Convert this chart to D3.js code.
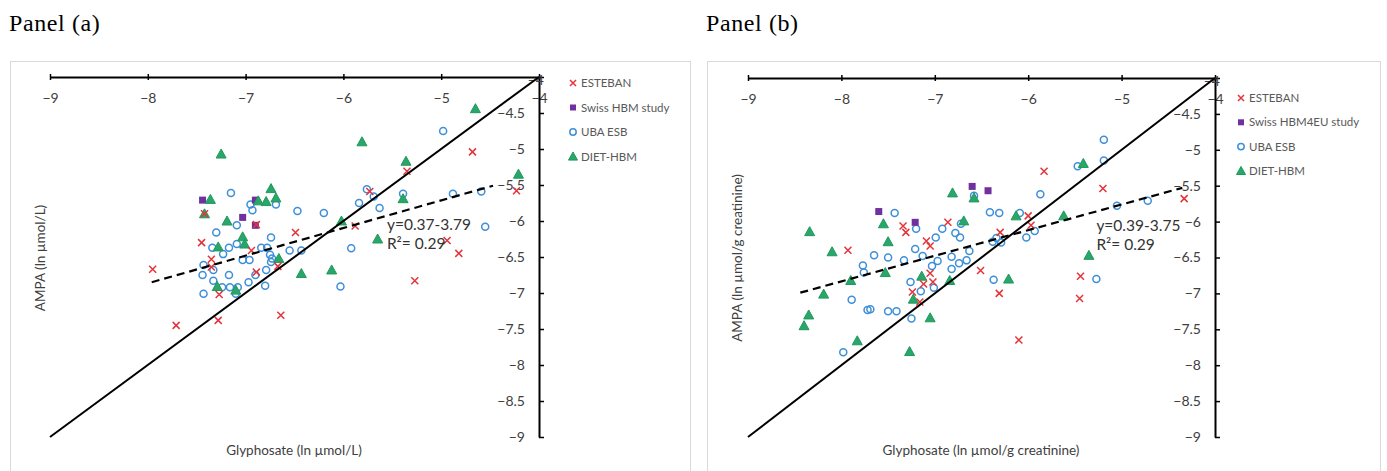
<!DOCTYPE html>
<html>
<head>
<meta charset="utf-8">
<script src="https://cdn.jsdelivr.net/npm/d3@7"></script>
<style>
  body { margin: 0; background: #fff; }
  svg text { font-family: Lato, "Open Sans", sans-serif; }
</style>
</head>
<body>
<div id="chart"></div>
<script>
//DATA--------------------
var xTicks = [-9, -8, -7, -6, -5, -4];
var yTicks = [-4, -4.5, -5, -5.5, -6, -6.5, -7, -7.5, -8, -8.5, -9];

var seriesNames = ["ESTEBAN", "Swiss HBM study", "UBA ESB", "DIET-HBM"];
var seriesNamesB = ["ESTEBAN", "Swiss HBM4EU study", "UBA ESB", "DIET-HBM"];

// panel (a): ln umol/L
var estebanA = [[-7.42,-5.90],[-7.45,-6.30],[-7.95,-6.67],[-7.35,-6.53],[-7.35,-6.64],[-6.94,-6.41],
  [-6.89,-6.05],[-6.49,-6.16],[-6.89,-6.71],[-6.67,-6.63],[-7.27,-7.02],[-7.71,-7.45],[-7.28,-7.38],
  [-6.64,-7.31],[-5.73,-5.59],[-5.35,-5.31],[-4.68,-5.04],[-5.88,-6.07],[-4.94,-6.27],[-4.82,-6.45],
  [-5.27,-6.83],[-4.23,-5.58]];
var swissA = [[-7.44,-5.71],[-6.90,-5.71],[-7.03,-5.95],[-6.90,-6.06]];
var ubaA = [[-7.15,-5.61],[-6.95,-5.77],[-6.93,-5.85],[-6.69,-5.77],[-6.47,-5.86],[-6.20,-5.89],
  [-7.30,-6.16],[-7.09,-6.06],[-6.74,-6.23],[-7.34,-6.37],[-7.23,-6.46],[-7.17,-6.37],[-7.09,-6.32],
  [-6.84,-6.37],[-6.78,-6.37],[-7.03,-6.54],[-6.96,-6.54],[-6.75,-6.47],[-6.73,-6.52],[-6.74,-6.57],
  [-6.55,-6.41],[-6.43,-6.41],[-7.43,-6.61],[-7.33,-6.68],[-6.79,-6.68],[-7.44,-6.75],[-7.17,-6.75],
  [-7.33,-6.83],[-6.97,-6.85],[-6.90,-6.75],[-6.80,-6.90],[-7.24,-6.92],[-7.16,-6.92],[-7.08,-6.92],
  [-7.10,-7.01],[-7.43,-7.01],[-4.98,-4.75],[-5.76,-5.56],[-5.69,-5.66],[-5.84,-5.75],[-5.63,-5.82],
  [-5.39,-5.62],[-4.88,-5.62],[-4.59,-5.59],[-4.55,-6.08],[-5.92,-6.38],[-6.03,-6.91]];
var dietA = [[-7.25,-5.07],[-7.36,-5.70],[-7.42,-5.90],[-6.74,-5.55],[-6.87,-5.72],[-6.79,-5.73],
  [-6.69,-5.68],[-7.19,-6.00],[-7.03,-6.22],[-7.01,-6.32],[-7.28,-6.36],[-6.66,-6.52],[-6.43,-6.73],
  [-6.12,-6.68],[-7.29,-6.91],[-7.10,-6.96],[-4.65,-4.44],[-5.81,-4.90],[-5.36,-5.17],[-5.39,-5.69],
  [-6.02,-6.00],[-5.65,-6.25],[-4.21,-5.35]];
var trendA = [[-7.96,-6.85],[-4.47,-5.51]];

// panel (b): ln umol/g creatinine
var estebanB = [[-7.93,-6.40],[-7.34,-6.06],[-7.31,-6.15],[-6.86,-6.01],[-7.09,-6.27],[-7.05,-6.34],
  [-7.05,-6.72],[-7.12,-6.87],[-7.02,-6.84],[-7.24,-6.98],[-7.16,-7.12],[-6.51,-6.68],[-5.83,-5.30],
  [-5.20,-5.54],[-6.00,-5.92],[-5.97,-6.05],[-6.30,-6.15],[-5.44,-6.76],[-5.45,-7.07],[-6.31,-7.00],
  [-6.10,-7.65],[-4.33,-5.68]];
var swissB = [[-6.60,-5.51],[-6.43,-5.57],[-7.60,-5.86],[-7.21,-6.01]];
var ubaB = [[-7.43,-5.88],[-6.58,-5.64],[-7.20,-6.10],[-6.41,-5.87],[-6.92,-6.10],[-6.99,-6.22],
  [-6.78,-6.16],[-6.73,-6.22],[-6.72,-6.03],[-7.21,-6.38],[-7.65,-6.47],[-7.50,-6.50],[-7.33,-6.54],
  [-7.13,-6.48],[-6.97,-6.55],[-7.03,-6.62],[-6.82,-6.49],[-6.82,-6.66],[-6.74,-6.58],[-6.66,-6.54],
  [-6.63,-6.41],[-7.77,-6.61],[-7.76,-6.71],[-7.26,-6.84],[-7.15,-6.97],[-7.01,-6.92],[-7.89,-7.09],
  [-7.72,-7.23],[-7.69,-7.22],[-7.50,-7.25],[-7.41,-7.25],[-7.25,-7.35],[-7.98,-7.82],[-5.19,-4.86],
  [-5.19,-5.15],[-5.47,-5.23],[-5.87,-5.62],[-6.31,-5.88],[-6.09,-5.88],[-5.05,-5.78],[-4.72,-5.71],
  [-6.34,-6.23],[-6.38,-6.28],[-6.29,-6.29],[-5.93,-6.13],[-6.02,-6.22],[-6.37,-6.81],[-5.27,-6.80]];
var dietB = [[-8.34,-6.14],[-8.10,-6.42],[-7.55,-6.03],[-7.50,-6.28],[-6.81,-5.60],[-6.58,-5.67],
  [-6.69,-5.99],[-7.90,-6.82],[-7.53,-6.71],[-8.19,-7.01],[-7.14,-6.76],[-6.84,-6.82],[-7.23,-7.08],
  [-7.05,-7.34],[-8.35,-7.30],[-8.40,-7.45],[-7.83,-7.66],[-7.27,-7.81],[-5.41,-5.19],[-6.13,-5.92],
  [-5.62,-5.92],[-5.35,-6.47],[-6.21,-6.80]];
var trendB = [[-8.44,-6.99],[-4.35,-5.53]];

var diagonal = [[-9,-9],[-4,-4]];

//COLOURS--------------------
var red = "#e3343a";
var purple = "#7030a0";
var blue = "#3d8fd9";
var green = "#2aa56c";
var greenEdge = "#1f9a5a";
var textGray = "#404040";

//SVG--------------------
var svg = d3.select("#chart")
    .append("svg")
    .attr("width", 1387)
    .attr("height", 471);

// marker drawing helpers
function drawCross(g, x, y, s) {
    g.append("path")
        .attr("d", `M${x-s},${y-s}L${x+s},${y+s}M${x-s},${y+s}L${x+s},${y-s}`)
        .attr("stroke", red)
        .attr("stroke-width", 1.5)
        .attr("fill", "none");
}
function drawSquare(g, x, y, s) {
    g.append("rect")
        .attr("x", x - s).attr("y", y - s)
        .attr("width", 2 * s).attr("height", 2 * s)
        .attr("fill", purple);
}
function drawCircle(g, x, y, r) {
    g.append("circle")
        .attr("cx", x).attr("cy", y).attr("r", r)
        .attr("fill", "none")
        .attr("stroke", blue)
        .attr("stroke-width", 1.5);
}
function drawTriangle(g, x, y, s) {
    g.append("path")
        .attr("d", `M${x},${y-s}L${x+s},${y+s*0.8}L${x-s},${y+s*0.8}Z`)
        .attr("fill", green)
        .attr("stroke", greenEdge)
        .attr("stroke-width", 1);
}

function drawPanel(p) {
    var g = svg.append("g");

    // frame
    g.append("rect")
        .attr("x", p.frame[0] + 0.5).attr("y", 61.5)
        .attr("width", p.frame[1] - p.frame[0]).attr("height", 440)
        .attr("fill", "none")
        .attr("stroke", "#d9d9d9");

    // panel title
    svg.append("text")
        .attr("x", p.frame[0] - 1)
        .attr("y", 31)
        .style("font-family", "'Liberation Serif', serif")
        .attr("font-size", 24)
        .attr("letter-spacing", 0.6)
        .attr("fill", "#000")
        .text(p.title);

    var x = d3.scaleLinear().domain([-9, -4]).range(p.xRange);
    var y = d3.scaleLinear().domain([-4, -9]).range(p.yRange);

    // x axis crossing at y=-4
    var xAxis = g.append("g")
        .attr("transform", `translate(0, ${y(-4)})`)
        .call(d3.axisBottom(x).tickValues(xTicks).tickSizeOuter(0).tickFormat(d3.format("")));
    xAxis.select(".domain").attr("stroke", "#000").attr("stroke-width", 2);
    xAxis.selectAll(".tick line").attr("y1", -3).attr("y2", 3).attr("stroke-width", 1.5);
    xAxis.selectAll(".tick text")
        .attr("y", 16)
        .attr("font-size", 14)
        .attr("fill", textGray);

    // y axis crossing at x=-4
    var yAxis = g.append("g")
        .attr("transform", `translate(${x(-4)}, 0)`)
        .call(d3.axisLeft(y).tickValues(yTicks).tickSizeOuter(0).tickFormat(d3.format("")));
    yAxis.select(".domain").attr("stroke", "#000").attr("stroke-width", 2);
    yAxis.selectAll(".tick line").attr("x1", 0).attr("x2", 5).attr("stroke-width", 1.5);
    yAxis.selectAll(".tick text")
        .attr("x", d => d === -4 ? 5 : -14)
        .attr("dy", d => d === -4 ? "0.55em" : "0.32em")
        .attr("font-size", 14)
        .attr("fill", textGray);

    // axis titles
    g.append("text")
        .attr("x", p.xTitlePos[0]).attr("y", p.xTitlePos[1])
        .attr("text-anchor", "middle")
        .attr("font-size", 13.5)
        .attr("fill", textGray)
        .text(p.xTitle);
    g.append("text")
        .attr("transform", `translate(${p.yTitlePos[0]}, ${p.yTitlePos[1]}) rotate(-90)`)
        .attr("text-anchor", "middle")
        .attr("font-size", 13.5)
        .attr("fill", textGray)
        .text(p.yTitle);

    // markers (UBA first, ESTEBAN on top)
    var marks = g.append("g");
    p.uba.forEach(d => drawCircle(marks, x(d[0]), y(d[1]), 3.5));
    p.swiss.forEach(d => drawSquare(marks, x(d[0]), y(d[1]), 3.5));
    p.diet.forEach(d => drawTriangle(marks, x(d[0]), y(d[1]), 5));
    p.esteban.forEach(d => drawCross(marks, x(d[0]), y(d[1]), 3.5));

    var line = d3.line().x(d => x(d[0])).y(d => y(d[1]));
    g.append("path")
        .attr("d", line(diagonal))
        .attr("fill", "none")
        .attr("stroke", "#000")
        .attr("stroke-width", 2);
    g.append("path")
        .attr("d", line(p.trend))
        .attr("fill", "none")
        .attr("stroke", "#000")
        .attr("stroke-width", 2.2)
        .attr("stroke-dasharray", "8,5");

    // equation
    g.append("text")
        .attr("x", x(p.eqPos[0])).attr("y", y(p.eqPos[1]))
        .attr("font-size", 15.5)
        .attr("fill", "#333")
        .text(p.eq);
    g.append("text")
        .attr("x", x(p.eqPos[0])).attr("y", y(p.eqPos[1]) + 19)
        .attr("font-size", 15.5)
        .attr("fill", "#333")
        .text("R²= 0.29");

    // legend
    var leg = g.append("g");
    var drawers = [
        (lx, ly) => drawCross(leg, lx, ly, 3),
        (lx, ly) => drawSquare(leg, lx, ly, 3),
        (lx, ly) => drawCircle(leg, lx, ly, 3.2),
        (lx, ly) => drawTriangle(leg, lx, ly, 4.5)
    ];
    p.names.forEach(function(name, i) {
        var ly = p.legend[1] + i * p.legendStep;
        drawers[i](p.legend[0], ly);
        leg.append("text")
            .attr("x", p.legend[0] + 8)
            .attr("y", ly)
            .attr("dy", "0.35em")
            .attr("font-size", 11.5)
            .attr("fill", "#595959")
            .text(name);
    });
}

drawPanel({
    title: "Panel (a)",
    frame: [10, 690],
    xRange: [50, 539],
    yRange: [77, 437],
    xTitle: "Glyphosate (ln µmol/L)",
    yTitle: "AMPA (ln µmol/L)",
    xTitlePos: [294, 455],
    yTitlePos: [45, 258],
    esteban: estebanA, swiss: swissA, uba: ubaA, diet: dietA,
    trend: trendA,
    eq: "y=0.37-3.79",
    eqPos: [-5.555, -6.125],
    names: seriesNames,
    legend: [573, 83],
    legendStep: 24.5
});

drawPanel({
    title: "Panel (b)",
    frame: [707, 1380],
    xRange: [748, 1215],
    yRange: [78, 437],
    xTitle: "Glyphosate (ln µmol/g creatinine)",
    yTitle: "AMPA (ln µmol/g creatinine)",
    xTitlePos: [981, 455],
    yTitlePos: [742, 258],
    esteban: estebanB, swiss: swissB, uba: ubaB, diet: dietB,
    trend: trendB,
    eq: "y=0.39-3.75",
    eqPos: [-5.27, -6.13],
    names: seriesNamesB,
    legend: [1241, 98],
    legendStep: 24.3
});
</script>
</body>
</html>
